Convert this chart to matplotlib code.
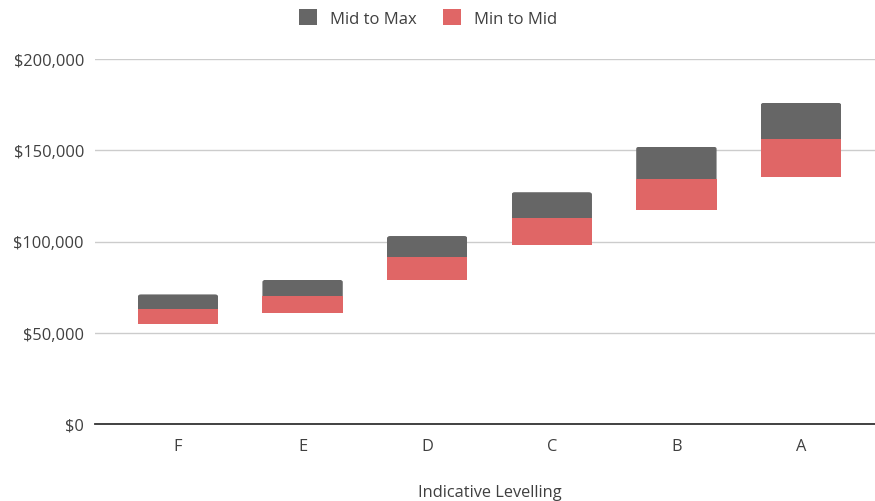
import matplotlib
matplotlib.use("Agg")
import matplotlib.pyplot as plt
from matplotlib.patches import FancyBboxPatch
from matplotlib.ticker import FuncFormatter
import numpy as np

plt.rcParams["font.family"] = ["Open Sans", "DejaVu Sans"]

levels = ["F", "E", "D", "C", "B", "A"]
salary_min = [55000, 61000, 79000, 98000, 117000, 135500]
salary_mid = [63000, 70000, 91500, 113000, 134500, 156000]
salary_max = [71000, 79000, 103000, 127000, 152000, 176000]

grey = "#666666"
red = "#e06666"
text_col = "#404040"

fig = plt.figure(figsize=(8.75, 5.02), dpi=100)
ax = fig.add_axes([95 / 875, 77 / 502, 780 / 875, 365 / 502])

x = np.arange(len(levels))
low = np.array(salary_mid) - np.array(salary_min)
high = np.array(salary_max) - np.array(salary_mid)
width = 0.645

ax.bar(x, low, width, bottom=salary_min, color=red, lw=0,
       label="Min to Mid", zorder=3)
tops = ax.bar(x, high, width, bottom=salary_mid, color=grey, lw=0,
              label="Mid to Max", zorder=3)

# clip each upper segment to a shape with rounded top corners;
# the clip shape runs below the segment so its bottom edge stays square
for rect in tops:
    bx, by = rect.get_x(), rect.get_y()
    bw, bh = rect.get_width(), rect.get_height()
    shape = FancyBboxPatch((bx, by - 4000), bw, bh + 4000,
                           boxstyle="round,pad=0,rounding_size=0.025",
                           mutation_aspect=50000, transform=ax.transData)
    rect.set_clip_path(shape)

ax.set_xlim(-0.666, 5.594)
ax.set_ylim(0, 200000)
ax.set_yticks([0, 50000, 100000, 150000, 200000])
ax.yaxis.set_major_formatter(FuncFormatter(lambda v, p: f"${v:,.0f}"))
ax.set_xticks(x)
ax.set_xticklabels(levels)

ax.grid(axis="y", color="#cccccc", lw=1, zorder=0)
for s in ["top", "right", "left"]:
    ax.spines[s].set_visible(False)
ax.spines["bottom"].set_color("#333333")
ax.spines["bottom"].set_linewidth(1.3)
ax.spines["bottom"].set_zorder(4)
ax.tick_params(axis="both", length=0, labelsize=11.8, labelcolor=text_col)
ax.tick_params(axis="y", pad=8)
ax.tick_params(axis="x", pad=10)

handles, labels = ax.get_legend_handles_labels()
fig.legend(handles[::-1], labels[::-1], loc="center", bbox_to_anchor=(0.489, 0.962),
           ncol=2, frameon=False, fontsize=12, labelcolor=text_col,
           handlelength=1.08, handleheight=1.08, columnspacing=1.55, handletextpad=0.78)

fig.text(489.5 / 875, 1 - 493 / 502, "Indicative Levelling", ha="center", va="center",
         fontsize=11.8, color=text_col)

fig.savefig("out.png", dpi=100)
